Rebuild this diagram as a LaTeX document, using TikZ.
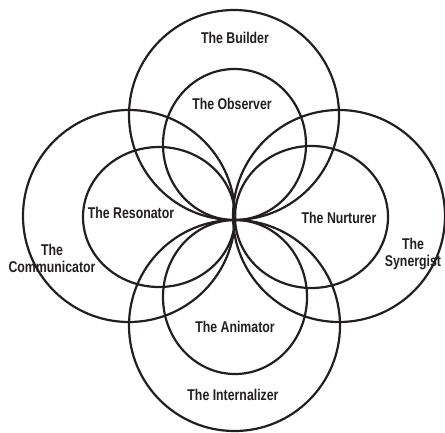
\documentclass[tikz,border=0pt]{standalone}
\usepackage{fontspec}
\setmainfont[FakeStretch=0.79]{Liberation Sans}
\definecolor{ink}{HTML}{231F20}
\begin{document}
\begin{tikzpicture}[x=1pt,y=-1pt,
  ring/.style={draw=ink,line width=2.2pt},
  lab/.style={text=ink,font=\fontsize{15.6}{17}\selectfont\bfseries,align=center,inner sep=0pt}]
\useasboundingbox (0,0) rectangle (445,432);
% big circles
\draw[ring] (234,115) circle[radius=105pt];
\draw[ring] (234.5,325.5) circle[radius=105.5pt];
\draw[ring] (129,216) circle[radius=106pt];
\draw[ring] (339,216) circle[radius=106pt];
% small ellipses
\draw[ring] (234.5,144.5) ellipse[x radius=71.5pt,y radius=75.5pt];
\draw[ring] (235,297) ellipse[x radius=72pt,y radius=77pt];
\draw[ring] (159,217) ellipse[x radius=76pt,y radius=70pt];
\draw[ring] (311.5,217) ellipse[x radius=76.5pt,y radius=71pt];
% labels
\node[lab] (builder) at (235,38) {The Builder};
\node[lab] (observer) at (232,104) {The Observer};
\node[lab] (resonator) at (131,213) {The Resonator};
\node[lab] (nurturer) at (339,218) {The Nurturer};
\node[lab] (communicator) at (52,258.5) {The\\Communicator};
\node[lab] (synergist) at (413,253.5) {The\\Synergist};
\node[lab] (animator) at (235,327) {The Animator};
\node[lab] (internalizer) at (233,395) {The Internalizer};
\end{tikzpicture}
\end{document}
